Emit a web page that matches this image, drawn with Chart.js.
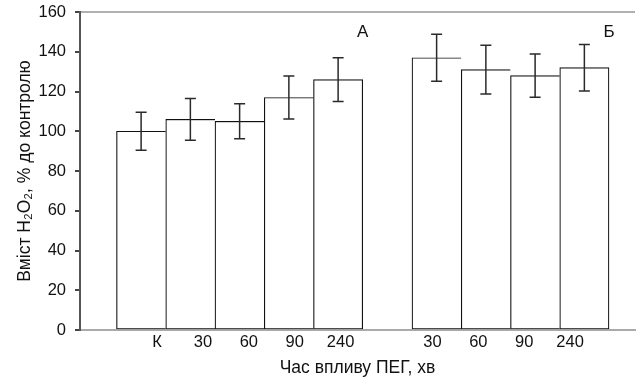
<!DOCTYPE html>
<html>
<head>
<meta charset="utf-8">
<script src="https://cdn.jsdelivr.net/npm/chart.js@4/dist/chart.umd.min.js"></script>
<style>
  html, body { margin: 0; padding: 0; background: #fff; }
  #wrap { width: 636px; height: 381px; position: relative; }
</style>
</head>
<body>
<div id="wrap"><canvas id="c"></canvas></div>
<script>
// Group А: control and PEG exposure times (min)
const labelsA = ['К', '30', '60', '90', '240'];
const valuesA = [100, 106, 105, 117, 126];
const errorsA = [9.5, 10.5, 8.8, 10.8, 11.0];

// Group Б: PEG exposure times (min)
const labelsB = ['30', '60', '90', '240'];
const valuesB = [137, 131, 128, 132];
const errorsB = [11.8, 12.3, 10.9, 11.7];

const yTicks = [0, 20, 40, 60, 80, 100, 120, 140, 160];
const groupNames = ['А', 'Б'];

// Slot index along the x axis: group А fills slots 1..5, one empty slot, then group Б
const slotsA = labelsA.map((_, i) => i + 1);
const slotsB = labelsB.map((_, i) => i + labelsA.length + 2);

const points = [
  ...slotsA.map((x, i) => ({ x, y: valuesA[i], err: errorsA[i] })),
  ...slotsB.map((x, i) => ({ x, y: valuesB[i], err: errorsB[i] }))
];
const slotLabel = {};
slotsA.forEach((x, i) => slotLabel[x] = labelsA[i]);
slotsB.forEach((x, i) => slotLabel[x] = labelsB[i]);
const lastInGroup = [labelsA.length - 1, labelsA.length + labelsB.length - 1];

const FONT = 'Liberation Sans, Arial, sans-serif';

const errorBars = {
  id: 'errorBars',
  afterDatasetsDraw(chart) {
    const { ctx, scales: { y } } = chart;
    const meta = chart.getDatasetMeta(0);
    ctx.save();
    ctx.strokeStyle = '#2a2a2a';
    ctx.lineWidth = 1.5;
    meta.data.forEach((bar, i) => {
      const p = points[i];
      const yTop = y.getPixelForValue(p.y + p.err);
      const yBot = y.getPixelForValue(p.y - p.err);
      const cap = 5.5;
      ctx.beginPath();
      ctx.moveTo(bar.x, yTop); ctx.lineTo(bar.x, yBot);
      ctx.moveTo(bar.x - cap, yTop); ctx.lineTo(bar.x + cap, yTop);
      ctx.moveTo(bar.x - cap, yBot); ctx.lineTo(bar.x + cap, yBot);
      ctx.stroke();
    });
    ctx.restore();
  }
};

// Group captions sit above the right edge of each group's last bar
const groupLabels = {
  id: 'groupLabels',
  afterDatasetsDraw(chart) {
    const { ctx, scales: { x, y } } = chart;
    ctx.save();
    ctx.fillStyle = '#111';
    ctx.font = '17px ' + FONT;
    ctx.textAlign = 'center';
    ctx.textBaseline = 'middle';
    ctx.fillText(groupNames[0], x.getPixelForValue(slotsA[slotsA.length - 1] + 0.5), y.getPixelForValue(150));
    ctx.fillText(groupNames[1], x.getPixelForValue(slotsB[slotsB.length - 1] + 0.5), y.getPixelForValue(150));
    ctx.restore();
  }
};

const tickFont = { family: FONT, size: 16.5 };
const titleFont = { family: FONT, size: 17.5 };

new Chart(document.getElementById('c'), {
  type: 'bar',
  data: {
    datasets: [{
      data: points,
      xAxisID: 'x',
      backgroundColor: '#ffffff',
      borderColor: '#111111',
      borderSkipped: false,
      borderWidth: (c) => ({
        top: 1.2, left: 1.2, bottom: 1.2,
        right: lastInGroup.includes(c.dataIndex) ? 1.2 : 0
      }),
      barPercentage: 1,
      categoryPercentage: 1
    }]
  },
  plugins: [errorBars, groupLabels],
  options: {
    responsive: true,
    maintainAspectRatio: false,
    animation: false,
    events: [],
    layout: { padding: { left: 0, right: 1, top: 12, bottom: 0 } },
    plugins: { legend: { display: false }, tooltip: { enabled: false } },
    scales: {
      // Bar axis: carries the bars and the baseline only
      x: {
        type: 'linear',
        position: 'bottom',
        weight: 0,
        offset: false,
        min: -0.241,
        max: 11.028,
        afterFit: (s) => { s.height = 0; s.paddingLeft = 0; s.paddingRight = 0; },
        grid: { display: false, drawTicks: false },
        border: { display: true, color: '#aaaaaa', width: 2 },
        ticks: { display: false }
      },
      // Label axis: category captions set a little tighter than the bars, plus the axis title
      xLabels: {
        type: 'linear',
        position: 'bottom',
        weight: 1,
        offset: false,
        min: -0.678,
        max: 11.414,
        afterFit: (s) => { s.height = 51; s.paddingLeft = 0; s.paddingRight = 0; },
        grid: { display: false, drawTicks: false },
        border: { display: false },
        ticks: {
          stepSize: 1,
          includeBounds: false,
          autoSkip: false,
          maxRotation: 0,
          padding: 3,
          color: '#111',
          font: tickFont,
          callback: (v) => slotLabel[v] || ''
        },
        title: {
          display: true,
          text: 'Час впливу ПЕГ, хв',
          color: '#111',
          font: titleFont,
          padding: { top: 0, bottom: 2 }
        }
      },
      y: {
        min: yTicks[0],
        max: yTicks[yTicks.length - 1],
        afterFit: (s) => { s.width = 80; s.paddingTop = 0; s.paddingBottom = 0; },
        afterBuildTicks: (s) => { s.ticks = yTicks.map(v => ({ value: v })); },
        grid: {
          color: (c) => (c.tick && c.tick.value === yTicks[yTicks.length - 1]) ? '#b0b0b0' : 'rgba(0,0,0,0)',
          lineWidth: 2,
          tickColor: '#444',
          tickLength: 5,
          drawTicks: true
        },
        border: { display: true, color: '#555555', width: 2 },
        ticks: {
          padding: 9,
          color: '#111',
          font: tickFont
        },
        title: {
          display: true,
          text: 'Вміст H₂O₂, % до контролю',
          color: '#111',
          font: titleFont,
          padding: { top: 15, bottom: 0 }
        }
      }
    }
  }
});
</script>
</body>
</html>
